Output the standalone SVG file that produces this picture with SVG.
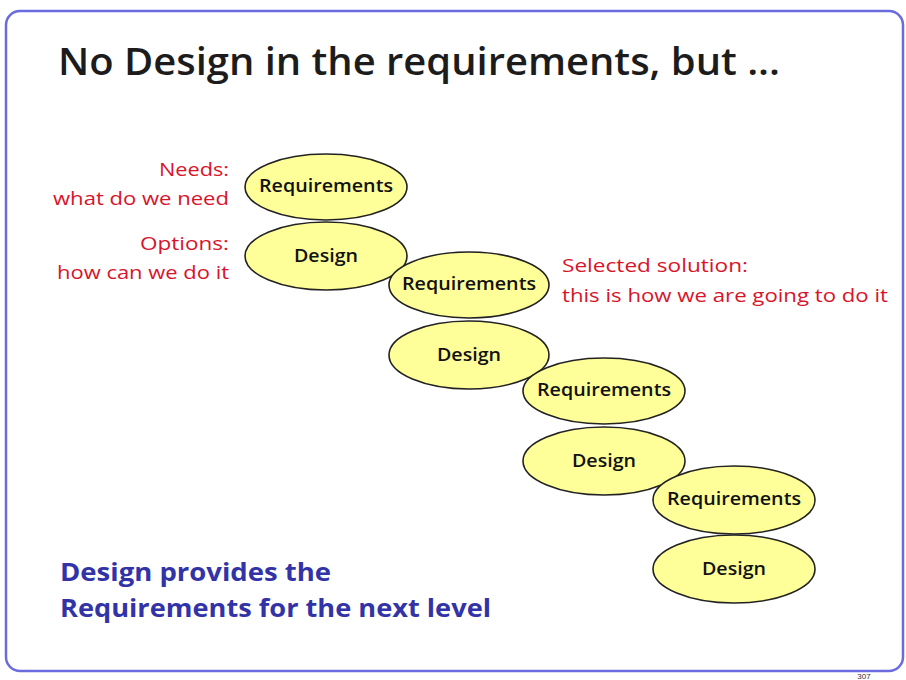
<svg xmlns="http://www.w3.org/2000/svg" width="906" height="680" viewBox="0 0 906 680">
<style>
.el{fill:#ffff99;stroke:#222;stroke-width:1.6}
.nt{font-family:"Open Sans","Liberation Sans",sans-serif;font-size:18px;font-weight:600;fill:#111;text-anchor:middle}
.red{font-family:"Open Sans","Liberation Sans",sans-serif;font-size:19px;fill:#d8142a}
.blue{font-family:"Open Sans","Liberation Sans",sans-serif;font-size:25px;font-weight:700;fill:#3333a8}
</style>
<rect width="906" height="680" fill="#fff"/>
<rect x="6" y="11" width="897" height="660" rx="14" fill="none" stroke="#6b6be0" stroke-width="2.5"/>
<text x="58" y="75" font-family="Open Sans, Liberation Sans, sans-serif" font-size="38" font-weight="600" fill="#1c1c1c" textLength="722" lengthAdjust="spacingAndGlyphs">No Design in the requirements, but ...</text>
<g id="labels">
<text class="red" x="229" y="176" text-anchor="end" textLength="70" lengthAdjust="spacingAndGlyphs">Needs:</text>
<text class="red" x="229" y="205" text-anchor="end" textLength="176" lengthAdjust="spacingAndGlyphs">what do we need</text>
<text class="red" x="229" y="250" text-anchor="end" textLength="89" lengthAdjust="spacingAndGlyphs">Options:</text>
<text class="red" x="229" y="279" text-anchor="end" textLength="172" lengthAdjust="spacingAndGlyphs">how can we do it</text>
<text class="red" x="562" y="272" textLength="186" lengthAdjust="spacingAndGlyphs">Selected solution:</text>
<text class="red" x="562" y="302" textLength="326" lengthAdjust="spacingAndGlyphs">this is how we  are going to do it</text>
<text class="blue" x="60" y="581" textLength="271" lengthAdjust="spacingAndGlyphs">Design provides the</text>
<text class="blue" x="60" y="617" textLength="431" lengthAdjust="spacingAndGlyphs">Requirements for the next level</text>
</g>
<g id="connectors"></g>
<g id="req1"><ellipse class="el" cx="326" cy="187" rx="81" ry="33"/><text class="nt" x="326" y="192" textLength="134" lengthAdjust="spacingAndGlyphs">Requirements</text></g>
<g id="design1"><ellipse class="el" cx="326" cy="256" rx="81" ry="34"/><text class="nt" x="326" y="262" textLength="64" lengthAdjust="spacingAndGlyphs">Design</text></g>
<g id="req2"><ellipse class="el" cx="469" cy="285" rx="80" ry="33"/><text class="nt" x="469" y="290" textLength="134" lengthAdjust="spacingAndGlyphs">Requirements</text></g>
<g id="design2"><ellipse class="el" cx="469" cy="355" rx="80" ry="34"/><text class="nt" x="469" y="361" textLength="64" lengthAdjust="spacingAndGlyphs">Design</text></g>
<g id="req3"><ellipse class="el" cx="604" cy="391" rx="81" ry="33"/><text class="nt" x="604" y="396" textLength="134" lengthAdjust="spacingAndGlyphs">Requirements</text></g>
<g id="design3"><ellipse class="el" cx="604" cy="461" rx="81" ry="34"/><text class="nt" x="604" y="467" textLength="64" lengthAdjust="spacingAndGlyphs">Design</text></g>
<g id="req4"><ellipse class="el" cx="734" cy="500" rx="81" ry="34"/><text class="nt" x="734" y="505" textLength="134" lengthAdjust="spacingAndGlyphs">Requirements</text></g>
<g id="design4"><ellipse class="el" cx="734" cy="569" rx="81" ry="34"/><text class="nt" x="734" y="575" textLength="64" lengthAdjust="spacingAndGlyphs">Design</text></g>
<text x="864" y="679" font-family="Liberation Sans, sans-serif" font-size="8" fill="#333" text-anchor="middle">307</text>
</svg>
